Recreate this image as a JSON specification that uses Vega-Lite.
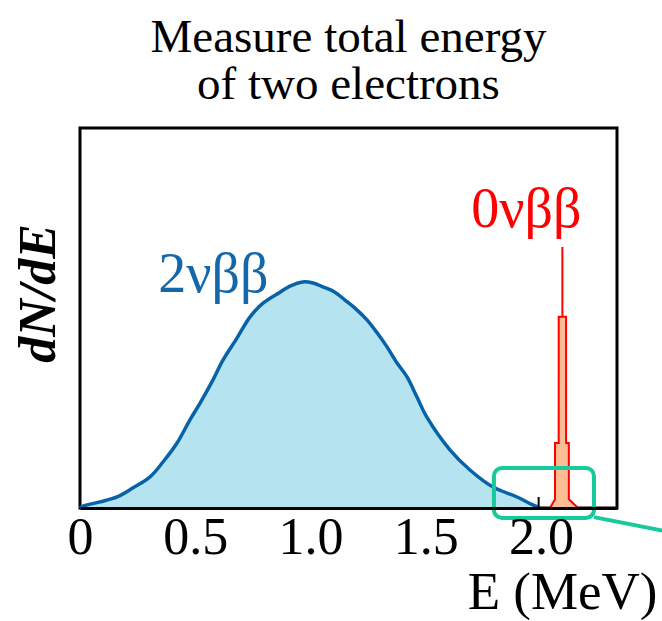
{
  "$schema": "https://vega.github.io/schema/vega-lite/v6.json",
  "autosize": {"type": "none"},
  "padding": {"left": 80, "top": 128, "right": 45, "bottom": 113},
  "width": 537,
  "height": 380,
  "background": "white",
  "config": {"view": {"stroke": "black", "strokeWidth": 3}, "font": "Liberation Serif"},
  "title": {
    "text": ["Measure total energy", "of two electrons"],
    "font": "Liberation Serif",
    "fontSize": 47,
    "fontWeight": "normal",
    "lineHeight": 47,
    "anchor": "middle",
    "offset": -18,
    "baseline": "alphabetic",
    "color": "black"
  },
  "datasets": {
    "curve": [
      {"E": 0.0, "v": 0.0},
      {"E": 0.013, "v": 0.5},
      {"E": 0.087, "v": 1.6},
      {"E": 0.161, "v": 2.9},
      {"E": 0.23, "v": 5.3},
      {"E": 0.304, "v": 8.2},
      {"E": 0.36, "v": 12.1},
      {"E": 0.421, "v": 17.1},
      {"E": 0.477, "v": 23.2},
      {"E": 0.521, "v": 27.6},
      {"E": 0.577, "v": 33.7},
      {"E": 0.62, "v": 38.9},
      {"E": 0.681, "v": 44.7},
      {"E": 0.738, "v": 50.3},
      {"E": 0.794, "v": 53.9},
      {"E": 0.868, "v": 56.8},
      {"E": 0.911, "v": 58.4},
      {"E": 0.967, "v": 59.5},
      {"E": 1.011, "v": 59.2},
      {"E": 1.054, "v": 58.2},
      {"E": 1.106, "v": 56.8},
      {"E": 1.15, "v": 54.7},
      {"E": 1.193, "v": 52.6},
      {"E": 1.245, "v": 49.5},
      {"E": 1.289, "v": 46.1},
      {"E": 1.332, "v": 42.4},
      {"E": 1.375, "v": 38.2},
      {"E": 1.419, "v": 34.5},
      {"E": 1.462, "v": 29.2},
      {"E": 1.505, "v": 23.9},
      {"E": 1.605, "v": 15.3},
      {"E": 1.692, "v": 10.0},
      {"E": 1.792, "v": 5.5},
      {"E": 1.896, "v": 2.9},
      {"E": 1.965, "v": 0.8},
      {"E": 1.987, "v": 0.3}
    ],
    "peak": [
      {"E": 2.039, "v": 0.0},
      {"E": 2.061, "v": 2.3},
      {"E": 2.0611, "v": 17.1},
      {"E": 2.077, "v": 17.1},
      {"E": 2.0771, "v": 50.3},
      {"E": 2.109, "v": 50.3},
      {"E": 2.1091, "v": 17.1},
      {"E": 2.121, "v": 17.1},
      {"E": 2.1211, "v": 2.3},
      {"E": 2.161, "v": 0.0}
    ],
    "spike": [{"E": 2.093, "v": 50.3, "v2": 68.7}],
    "endpoint": [{"E": 1.99, "v": 0.0, "v2": 2.9}],
    "lab2": [{"E": 0.579, "v": 56.8, "t": "2νββ"}],
    "lab0": [{"E": 1.937, "v": 74.0, "t": "0νββ"}],
    "box": [{"E": 1.796, "E2": 2.23, "v": 10.5, "v2": -2.6}],
    "connector": [{"E": 2.23, "v": -2.4}, {"E": 2.6, "v": -6.8}]
  },
  "encoding": {
    "x": {
      "field": "E",
      "type": "quantitative",
      "scale": {"domain": [0, 2.33], "nice": false, "zero": false},
      "axis": {
        "values": [0, 0.5, 1, 1.5, 2],
        "labelExpr": "datum.value == 0 ? '0' : format(datum.value, '.1f')",
        "ticks": false,
        "grid": false,
        "domain": true,
        "domainColor": "black",
        "domainWidth": 3,
        "labelFont": "Liberation Serif",
        "labelFontSize": 52,
        "labelColor": "black",
        "labelPadding": 4,
        "labelFlush": false,
        "labelOverlap": false,
        "title": "E (MeV)",
        "titleFont": "Liberation Serif",
        "titleFontSize": 53,
        "titleFontWeight": "normal",
        "titleColor": "black",
        "titleX": 577,
        "titleY": 100,
        "titleAlign": "right",
        "titleBaseline": "alphabetic",
        "zindex": 1
      }
    },
    "y": {
      "field": "v",
      "type": "quantitative",
      "scale": {"domain": [0, 100], "nice": false, "zero": false},
      "axis": {
        "domain": false,
        "ticks": false,
        "labels": false,
        "grid": false,
        "title": "dN/dE",
        "titleFont": "Liberation Serif",
        "titleFontStyle": "italic",
        "titleFontWeight": "bold",
        "titleFontSize": 52,
        "titleColor": "black",
        "titleAngle": 270,
        "titleX": -26,
        "titleY": 165,
        "titleAlign": "center",
        "titleBaseline": "alphabetic"
      }
    }
  },
  "layer": [
    {"data": {"name": "curve"}, "mark": {"type": "area", "color": "#b6e3f0", "interpolate": "catmull-rom"}},
    {"data": {"name": "curve"}, "mark": {"type": "line", "color": "#0762a8", "strokeWidth": 3.5, "interpolate": "catmull-rom"}},
    {
      "data": {"name": "peak"},
      "mark": {"type": "area", "fill": "#fcbc94", "stroke": "#ff0000", "strokeWidth": 2}
    },
    {
      "data": {"name": "spike"},
      "mark": {"type": "rule", "color": "#ff0000", "strokeWidth": 2},
      "encoding": {"y2": {"field": "v2"}}
    },
    {
      "data": {"name": "endpoint"},
      "mark": {"type": "rule", "color": "black", "strokeWidth": 2},
      "encoding": {"y2": {"field": "v2"}}
    },
    {
      "data": {"name": "lab2"},
      "mark": {"type": "text", "color": "#1468aa", "font": "Liberation Serif", "fontSize": 56, "align": "center", "baseline": "alphabetic"},
      "encoding": {"text": {"field": "t"}}
    },
    {
      "data": {"name": "lab0"},
      "mark": {"type": "text", "color": "#ff0000", "font": "Liberation Serif", "fontSize": 56, "align": "center", "baseline": "alphabetic"},
      "encoding": {"text": {"field": "t"}}
    },
    {
      "data": {"name": "box"},
      "mark": {"type": "rect", "fillOpacity": 0, "stroke": "#17c99b", "strokeWidth": 4, "cornerRadius": 8},
      "encoding": {"x2": {"field": "E2"}, "y2": {"field": "v2"}}
    },
    {
      "data": {"name": "connector"},
      "mark": {"type": "line", "color": "#17c99b", "strokeWidth": 4}
    }
  ]
}
